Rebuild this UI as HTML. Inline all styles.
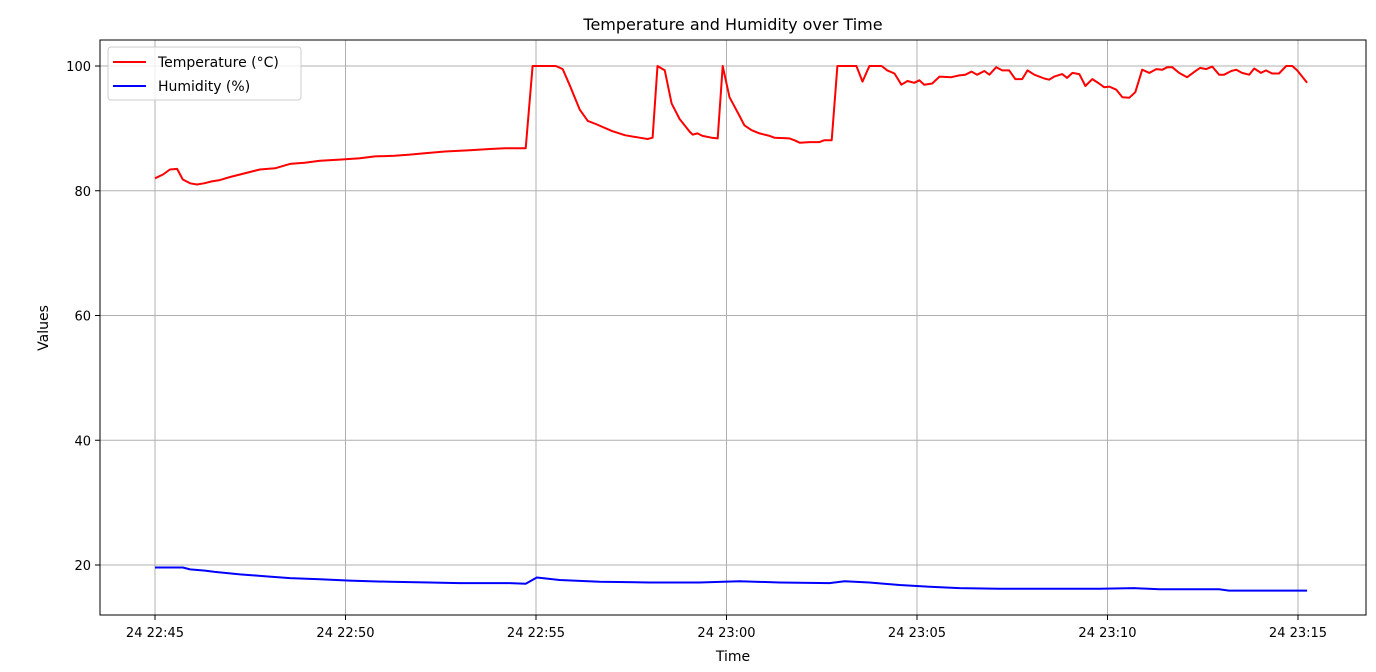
<!DOCTYPE html>
<html><head><meta charset="utf-8"><style>
body{margin:0;background:#fff;font-family:"Liberation Sans","DejaVu Sans",sans-serif}
svg text{font-family:"DejaVu Sans","Liberation Sans",sans-serif;fill:#000}
</style></head><body>
<svg id="chart" width="1376" height="667" xmlns="http://www.w3.org/2000/svg">
<text x="733" y="30" font-size="16" text-anchor="middle">Temperature and Humidity over Time</text>
<g id="grid"></g><g id="series"></g>
<rect x="100" y="40" width="1266" height="575" fill="none" stroke="#000" stroke-width="1"/>
<g id="ticks"></g>
<text x="733" y="661" font-size="14" text-anchor="middle">Time</text>
<text transform="translate(48,328) rotate(-90)" font-size="14" text-anchor="middle">Values</text>
<g>
<rect x="108" y="47" width="193" height="53" rx="3" fill="#fff" fill-opacity="0.8" stroke="#ccc"/>
<line x1="113" y1="62" x2="146" y2="62" stroke="#f00" stroke-width="2"/>
<text x="158" y="67" font-size="14">Temperature (°C)</text>
<line x1="113" y1="86" x2="146" y2="86" stroke="#00f" stroke-width="2"/>
<text x="158" y="91" font-size="14">Humidity (%)</text>
</g>
</svg>
<script>
const tempTimes=[0,0.21,0.39,0.58,0.73,0.92,1.10,1.29,1.49,1.70,1.97,2.23,2.49,2.75,3.15,3.54,3.93,4.33,4.85,5.38,5.77,6.29,6.69,7.08,7.61,8.26,8.79,9.18,9.73,9.91,10.52,10.70,10.88,11.15,11.36,11.57,11.72,11.99,12.33,12.72,12.93,13.06,13.19,13.38,13.56,13.77,14.03,14.11,14.24,14.37,14.61,14.77,14.90,15.08,15.34,15.47,15.66,15.87,16.13,16.26,16.65,16.78,16.92,17.18,17.44,17.57,17.76,17.91,18.41,18.57,18.75,19.07,19.22,19.41,19.59,19.75,19.93,20.06,20.19,20.40,20.59,20.90,21.11,21.27,21.43,21.58,21.77,21.90,22.08,22.24,22.42,22.58,22.76,22.90,23.08,23.34,23.47,23.60,23.81,23.94,24.08,24.26,24.42,24.60,24.78,24.91,25.05,25.23,25.39,25.57,25.73,25.91,26.10,26.28,26.44,26.57,26.70,26.88,27.09,27.33,27.43,27.59,27.75,27.93,28.06,28.25,28.38,28.53,28.72,28.85,29.03,29.16,29.32,29.50,29.69,29.85,29.98,30.24];
const tempValues=[82.0,82.6,83.4,83.5,81.8,81.2,81.0,81.2,81.5,81.7,82.2,82.6,83.0,83.4,83.6,84.3,84.5,84.8,85.0,85.2,85.5,85.6,85.8,86.0,86.3,86.5,86.7,86.8,86.8,100,100,99.5,97,93,91.2,90.7,90.3,89.6,88.9,88.5,88.3,88.5,100,99.3,94,91.5,89.5,89.0,89.2,88.8,88.5,88.4,100,95,92,90.5,89.7,89.2,88.8,88.5,88.4,88.1,87.7,87.8,87.8,88.1,88.1,100,100,97.5,100,100,99.3,98.8,97.0,97.6,97.3,97.7,97.0,97.2,98.3,98.2,98.5,98.6,99.1,98.6,99.2,98.6,99.8,99.3,99.3,97.9,97.9,99.3,98.6,98.0,97.8,98.3,98.7,98.1,98.9,98.7,96.8,97.9,97.2,96.6,96.7,96.2,95.0,94.9,95.8,99.4,98.9,99.5,99.4,99.8,99.8,98.9,98.2,99.3,99.7,99.5,99.9,98.6,98.6,99.2,99.4,98.9,98.6,99.6,98.9,99.3,98.8,98.8,100,100,99.3,97.3];
const humTimes=[0,0.73,0.92,1.31,1.57,2.23,2.88,3.54,4.33,5.11,6.16,7.21,8.00,9.31,9.73,10.02,10.62,11.67,12.98,14.29,15.34,16.39,17.70,18.10,18.75,19.54,20.33,21.11,22.16,24.78,25.70,26.36,27.93,28.19,30.24];
const humValues=[19.6,19.6,19.3,19.1,18.9,18.5,18.2,17.9,17.7,17.5,17.3,17.2,17.1,17.1,17.0,18.0,17.6,17.3,17.2,17.2,17.4,17.2,17.1,17.4,17.2,16.8,16.5,16.3,16.2,16.2,16.3,16.1,16.1,15.9,15.9];
const xTickMinutes=[0,5,10,15,20,25,30];
const xTickLabels=["24 22:45","24 22:50","24 22:55","24 23:00","24 23:05","24 23:10","24 23:15"];
const yTickValues=[20,40,60,80,100];
const yTickLabels=["20","40","60","80","100"];
const NS="http://www.w3.org/2000/svg";
const xs=m=>155+m*38.1;
const ys=v=>565-(v-20)*6.2375;
const grid=document.getElementById('grid'),ticks=document.getElementById('ticks'),series=document.getElementById('series');
function mk(tag,attrs,parent){const e=document.createElementNS(NS,tag);for(const k in attrs)e.setAttribute(k,attrs[k]);parent.appendChild(e);return e;}
xTickMinutes.forEach((m,i)=>{
  const x=xs(m);
  const g=mk('line',{x1:x,x2:x,y1:40,y2:615,stroke:'#b0b0b0','stroke-width':1},grid);
  
  
  mk('line',{x1:x,x2:x,y1:615,y2:620,stroke:'#000'},ticks);
  const t=mk('text',{x:x,y:637,'font-size':13,'text-anchor':'middle'},ticks);
  t.textContent=xTickLabels[i];
  
  
});
yTickValues.forEach((v,i)=>{
  const y=ys(v);
  const g=mk('line',{x1:100,x2:1366,y1:y,y2:y,stroke:'#b0b0b0','stroke-width':1},grid);
  
  
  mk('line',{x1:95,x2:100,y1:y,y2:y,stroke:'#000'},ticks);
  const t=mk('text',{x:91,y:y+5,'font-size':13,'text-anchor':'end'},ticks);
  t.textContent=yTickLabels[i];
  
  
});
function line(times,vals,color,name){
  const d=times.map((t,i)=>(i?'L':'M')+xs(t).toFixed(1)+','+ys(vals[i]).toFixed(1)).join('');
  const p=mk('path',{d:d,fill:'none',stroke:color,'stroke-width':2,'stroke-linejoin':'round'},series);
  
  
}
line(tempTimes,tempValues,'#f00','temperature-line');
line(humTimes,humValues,'#00f','humidity-line');
</script>
</body></html>
